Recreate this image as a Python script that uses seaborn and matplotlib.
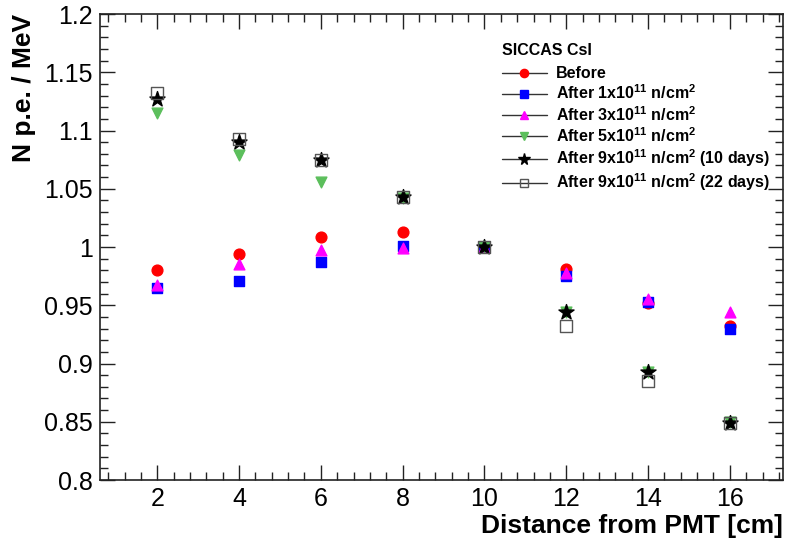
import numpy as np
import pandas as pd
import seaborn as sns
import matplotlib.pyplot as plt
from matplotlib.lines import Line2D
from matplotlib.ticker import MultipleLocator

sns.set_style("ticks")
plt.rcParams['font.family'] = ['Liberation Sans', 'DejaVu Sans']
plt.rcParams['mathtext.fontset'] = 'custom'
plt.rcParams['mathtext.rm'] = 'Liberation Sans'
plt.rcParams['mathtext.bf'] = 'Liberation Sans:bold'
for key in ['text.color', 'axes.labelcolor', 'xtick.color', 'ytick.color', 'axes.edgecolor']:
    plt.rcParams[key] = 'black'

# Light yield relative to the 10 cm point, per irradiation step
distance = [2, 4, 6, 8, 10, 12, 14, 16]
before = [0.980, 0.994, 1.009, 1.013, 1.000, 0.981, 0.952, 0.932]
after_1e11 = [0.965, 0.971, 0.987, 1.001, 1.000, 0.975, 0.953, 0.930]
after_3e11 = [0.967, 0.985, 0.997, 0.999, 1.000, 0.978, 0.955, 0.944]
after_5e11 = [1.115, 1.079, 1.056, 1.042, 1.000, 0.944, 0.893, 0.850]
after_9e11_10d = [1.127, 1.090, 1.075, 1.043, 1.000, 0.944, 0.893, 0.849]
after_9e11_22d = [1.132, 1.093, 1.075, 1.043, 1.000, 0.932, 0.885, 0.849]

labels = [
    r"Before",
    r"After 1x10$^{\mathbf{11}}$ n/cm$^{\mathbf{2}}$",
    r"After 3x10$^{\mathbf{11}}$ n/cm$^{\mathbf{2}}$",
    r"After 5x10$^{\mathbf{11}}$ n/cm$^{\mathbf{2}}$",
    r"After 9x10$^{\mathbf{11}}$ n/cm$^{\mathbf{2}}$ (10 days)",
    r"After 9x10$^{\mathbf{11}}$ n/cm$^{\mathbf{2}}$ (22 days)",
]
series = [before, after_1e11, after_3e11, after_5e11, after_9e11_10d, after_9e11_22d]

styles = [
    dict(marker='o', color='#ff0000', face='#ff0000', s=60, ms=7),
    dict(marker='s', color='#0000ff', face='#0000ff', s=55, ms=7),
    dict(marker='^', color='#ff00ff', face='#ff00ff', s=60, ms=7),
    dict(marker='v', color='#5cbf5c', face='#5cbf5c', s=60, ms=7),
    dict(marker='*', color='#000000', face='#000000', s=130, ms=10),
    dict(marker='s', color='#555555', face='none', s=75, ms=7.5),
]

fig = plt.figure(figsize=(7.89, 5.39), dpi=100)
ax = fig.add_axes([100 / 789, 1 - 480 / 539, 683 / 789, 466 / 539])

for lab, vals, st in zip(labels, series, styles):
    df = pd.DataFrame({"distance": distance, "npe": vals})
    sns.scatterplot(data=df, x="distance", y="npe", ax=ax, marker=st['marker'],
                    s=st['s'], facecolor=st['face'], edgecolor=st['color'],
                    linewidth=1.0, legend=False, zorder=3)

ax.set_xlim(0.6, 17.3)
ax.set_ylim(0.8, 1.2)
ax.xaxis.set_major_locator(MultipleLocator(2))
ax.xaxis.set_minor_locator(MultipleLocator(0.4))
ax.yaxis.set_minor_locator(MultipleLocator(0.01))
ax.set_yticks(np.arange(0.8, 1.2001, 0.05))
ax.set_yticklabels(["0.8", "0.85", "0.9", "0.95", "1", "1.05", "1.1", "1.15", "1.2"])

ax.tick_params(which='both', direction='in', top=True, right=True, width=1.0, color='#222222')
ax.tick_params(which='major', length=11, labelsize=18, pad=5)
ax.tick_params(which='minor', length=5.5)
for sp in ax.spines.values():
    sp.set_linewidth(1.2)
    sp.set_color('#222222')

ax.set_xlabel("Distance from PMT [cm]", fontsize=19, fontweight='bold', loc='right', labelpad=2)
ax.set_ylabel("N p.e. / MeV", fontsize=19, fontweight='bold', loc='top', labelpad=6)

handles = []
for st in styles:
    handles.append(Line2D([0], [0], color='#333333', lw=1.0, marker=st['marker'],
                          markerfacecolor=st['face'], markeredgecolor=st['color'],
                          markersize=st['ms'] * 0.85))
leg = ax.legend(handles, labels, title="SICCAS CsI", loc='upper left',
                bbox_to_anchor=(0.572, 0.962), frameon=False, handlelength=2.8,
                handletextpad=0.6, labelspacing=0.16, borderpad=0.2,
                prop={'size': 11.5, 'weight': 'bold'},
                title_fontproperties={'size': 11.5, 'weight': 'bold'})
leg._legend_box.align = "left"
leg._legend_box.sep = 6

fig.savefig("out.png", dpi=100)
